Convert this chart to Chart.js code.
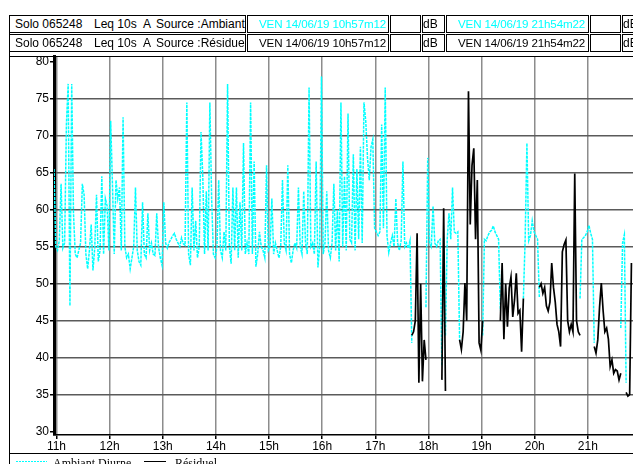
<!DOCTYPE html>
<html><head><meta charset="utf-8">
<script src="https://cdn.jsdelivr.net/npm/chart.js@4"></script>
<style>
html,body{margin:0;padding:0;background:#fff;overflow:hidden;}
#wrap{position:relative;width:633px;height:464px;overflow:hidden;font-family:"Liberation Sans",Arial,sans-serif;font-size:12px;color:#000;}
#c{position:absolute;left:0;top:0;}
.cell{position:absolute;box-sizing:border-box;border:1px solid #000;height:18px;overflow:hidden;white-space:nowrap;background:#fff;}
.t{position:absolute;top:0;line-height:16px;}
.v{font-size:11.6px;letter-spacing:-0.15px;}
.cy{color:#00ffff;}
.hl{position:absolute;background:#000;}
.leg{position:absolute;font-family:"Liberation Serif","Times New Roman",serif;font-size:12px;line-height:14px;white-space:nowrap;}
</style></head>
<body><div id="wrap">
<canvas id="c" width="640" height="464"></canvas>
<!-- header row 1 -->
<div class="cell" style="left:9px;top:15px;width:237px;"><span class="t" style="left:5px">Solo 065248</span><span class="t" style="left:84px">Leq 10s</span><span class="t" style="left:133px">A</span><span class="t" style="left:146px">Source :Ambiant</span></div>
<div class="cell" style="left:247px;top:15px;width:142px;"><span class="t v cy" style="left:11px">VEN 14/06/19 10h57m12</span></div>
<div class="cell" style="left:390px;top:15px;width:31px;"></div>
<div class="cell" style="left:422px;top:15px;width:23px;"><span class="t" style="left:0px">dB</span></div>
<div class="cell" style="left:446px;top:15px;width:143px;"><span class="t v cy" style="left:11px">VEN 14/06/19 21h54m22</span></div>
<div class="cell" style="left:590px;top:15px;width:31px;"></div>
<div class="cell" style="left:622px;top:15px;width:30px;"><span class="t" style="left:0px">dB</span></div>
<!-- header row 2 -->
<div class="cell" style="left:9px;top:34px;width:237px;"><span class="t" style="left:5px">Solo 065248</span><span class="t" style="left:84px">Leq 10s</span><span class="t" style="left:133px">A</span><span class="t" style="left:146px">Source :Résiduel</span></div>
<div class="cell" style="left:247px;top:34px;width:142px;"><span class="t v" style="left:11px">VEN 14/06/19 10h57m12</span></div>
<div class="cell" style="left:390px;top:34px;width:31px;"></div>
<div class="cell" style="left:422px;top:34px;width:23px;"><span class="t" style="left:0px">dB</span></div>
<div class="cell" style="left:446px;top:34px;width:143px;"><span class="t v" style="left:11px">VEN 14/06/19 21h54m22</span></div>
<div class="cell" style="left:590px;top:34px;width:31px;"></div>
<div class="cell" style="left:622px;top:34px;width:30px;"><span class="t" style="left:0px">dB</span></div>
<!-- frame lines -->
<div class="hl" style="left:9px;top:15px;width:1px;height:449px;"></div>
<div class="hl" style="left:9px;top:56px;width:640px;height:1px;"></div>
<div class="hl" style="left:9px;top:453px;width:640px;height:1px;"></div>
<!-- legend -->
<div style="position:absolute;left:16px;top:461px;width:31px;height:1px;background:repeating-linear-gradient(90deg,#00ffff 0 2px,transparent 2px 3px);"></div>
<div class="leg" style="left:53px;top:456px;">Ambiant Diurne</div>
<div class="hl" style="left:144px;top:461px;width:22px;height:1px;"></div>
<div class="leg" style="left:175px;top:456px;">Résiduel</div>
</div>
<script>
// recording span and sampling step (values read every 2 minutes from the picture)
const START_H = 10 + 57/60 + 12/3600;   // VEN 14/06/19 10h57m12
const END_H   = 21 + 54/60 + 22/3600;   // VEN 14/06/19 21h54m22
const STEP_H  = 2/60;

const hourTicks  = [11,12,13,14,15,16,17,18,19,20,21];
const hourLabels = ['11h','12h','13h','14h','15h','16h','17h','18h','19h','20h','21h'];
const levelTicks = [30,35,40,45,50,55,60,65,70,75,80];

// Ambiant Diurne (cyan) : segments, first sample index of each
const ambiantStart = [0, 210, 221, 242, 265, 297, 320];
const ambiant1 = [
65.5,55,54.5,55.8,63.5,54.8,55.5,71.5,77,47,
77,59.5,54,53.5,54.5,55.5,63.5,62,54,52,
54.5,58,51.8,54.8,62,53,54.5,64.5,54,61.5,
60.5,54.5,72,63.5,54,64,61.5,63,54.5,72.5,
55,53.5,54,52,53.5,55,63,54.5,53,52.5,
61,54,53.5,59.5,54.5,55.5,54,53.8,59.5,55,
53.5,52.5,61,55.5,54.8,55.6,56,56.5,56.8,56,
55.5,55,56.2,55.4,55.2,74.5,54,52.5,63,
54.5,58.5,53.5,55,70.5,64.5,54,62.5,54.5,74.5,
61.5,54,53.5,55,64,54.5,53.5,57,54.5,77,
55,52.7,63,54.5,63,53.5,61,54.5,69,54,
55.5,54,74.5,54,66.5,52.3,54,57,55,54.5,
53.5,66,54.5,55,61.5,54,55.5,54.5,53.5,55,
64,55.5,54.5,66,54,52.8,54.5,55.5,54.8,63,
55,54,62.5,55.5,54,76.5,55,55.5,54,
66.5,52.2,55,78,54,55.5,62.5,54.5,53.5,55.5,
63.5,54.5,60,53,74.5,55,64.5,54.5,73,56,
55.5,67.5,54.5,65.5,56,68.5,55.5,74.5,72,67,
64,68.5,69.5,57.5,57,56.5,57,71.5,57.5,76.5,
56.5,54.2,55.5,56.5,55,61.5,55.5,54.5,55.8,66.5,
55,55.5,54.8,55.8,42];
const ambiant2 = [46.8,67,55.5,55,60.5,55.5,55,55.8,56,38.8];
const ambiant3 = [43,56,59.5,56,63,57,56.8,57,42.4];
const ambiant4 = [43,56,55.8,56.5,57,57.2,57.8,57,56.5,56,46.4];
const ambiant5 = [48,56,69,55.8,56.5,58.5,57,56.5,56,48.2];
const ambiant6 = [48,56,56.2,56.5,57,57.9,56.8,56,42];
const ambiant7 = [44,55.5,56.6,36.6];

// Résiduel (black) : segments, first sample index of each
const residuelStart = [202, 219, 229, 252, 274, 305, 323];
const residuel1 = [43,43.5,45,56.8,36.6,50,36.8,42.4,39.7];
const residuel2 = [37,60.2,35.5];
const residuel3 = [42.4,41.1,43.5,50.1,45,76,58,66,68.3,56,64,42,41,45];
const residuel4 = [45,52.8,42.5,50,44.2,49.4,50.9,45.5,47.8,51.4,46,46.4,40.8,48];
const residuel5 = [49.5,50,48.7,49.5,47,46.3,47.5,52.8,49.5,47.5,44.5,43.5,41.5,54.3,55.3,55.9,45,43.5,44.5,43.5,64.9,45,43.5,43];
const residuel6 = [41.5,40.6,42.4,46.8,50.1,46.4,43.5,44,42.5,38.8,39.7,37.9,38.4,38.2,37,37.9];
const residuel7 = [35.3,34.8,35,52.8];

function toPoints(starts, segs){
  const pts = [];
  segs.forEach((seg,k)=>{
    if(k>0) pts.push({x: START_H + (starts[k]-0.5)*STEP_H, y: null});
    seg.forEach((v,j)=>pts.push({x: START_H + (starts[k]+j)*STEP_H, y: v}));
  });
  return pts;
}
const ambPts = toPoints(ambiantStart,[ambiant1,ambiant2,ambiant3,ambiant4,ambiant5,ambiant6,ambiant7]);
const resPts = toPoints(residuelStart,[residuel1,residuel2,residuel3,residuel4,residuel5,residuel6,residuel7]);

Chart.defaults.font.family = "'Liberation Sans', Arial, sans-serif";
Chart.defaults.font.size = 12;
Chart.defaults.color = '#000';

new Chart(document.getElementById('c'), {
  type: 'line',
  data: { datasets: [
    { label:'Résiduel', data: resPts, borderColor:'#000', borderWidth:1.7, pointRadius:0, spanGaps:false, order:0 },
    { label:'Ambiant Diurne', data: ambPts, borderColor:'#00ffff', borderWidth:1.5, borderDash:[3,1], pointRadius:0, spanGaps:false, order:1 }
  ]},
  options: {
    responsive:false, animation:false, devicePixelRatio:1,
    layout:{ padding:{ left:0, right:4, top:56, bottom:11 } },
    plugins:{ legend:{display:false}, tooltip:{enabled:false} },
    scales:{
      x:{ type:'linear', min:START_H, max:END_H,
        afterBuildTicks: s=>{ s.ticks = hourTicks.map(v=>({value:v})); },
        afterFit: s=>{ s.height = 18; },
        ticks:{ autoSkip:false, maxRotation:0, padding:0, color:'#000',
          callback: v => hourLabels[hourTicks.indexOf(v)] },
        grid:{ color:'#8c8c8c', lineWidth:1.5, tickLength:4, tickColor:'#000' },
        border:{ display:true, color:'#000', width:1.5 }
      },
      y:{ min:29.55, max:80.77,
        afterBuildTicks: s=>{ s.ticks = levelTicks.map(v=>({value:v})); },
        afterFit: s=>{ s.width = 54; },
        ticks:{ padding:1, color:'#000' },
        grid:{ color: c => (c.tick && (c.tick.value===30 || c.tick.value===80)) ? 'rgba(0,0,0,0)' : '#5a5a5a',
               lineWidth:1.5, tickLength:4, tickColor:'#000' },
        border:{ display:true, color:'#000', width:3 }
      }
    }
  }
});
</script>
</body></html>
